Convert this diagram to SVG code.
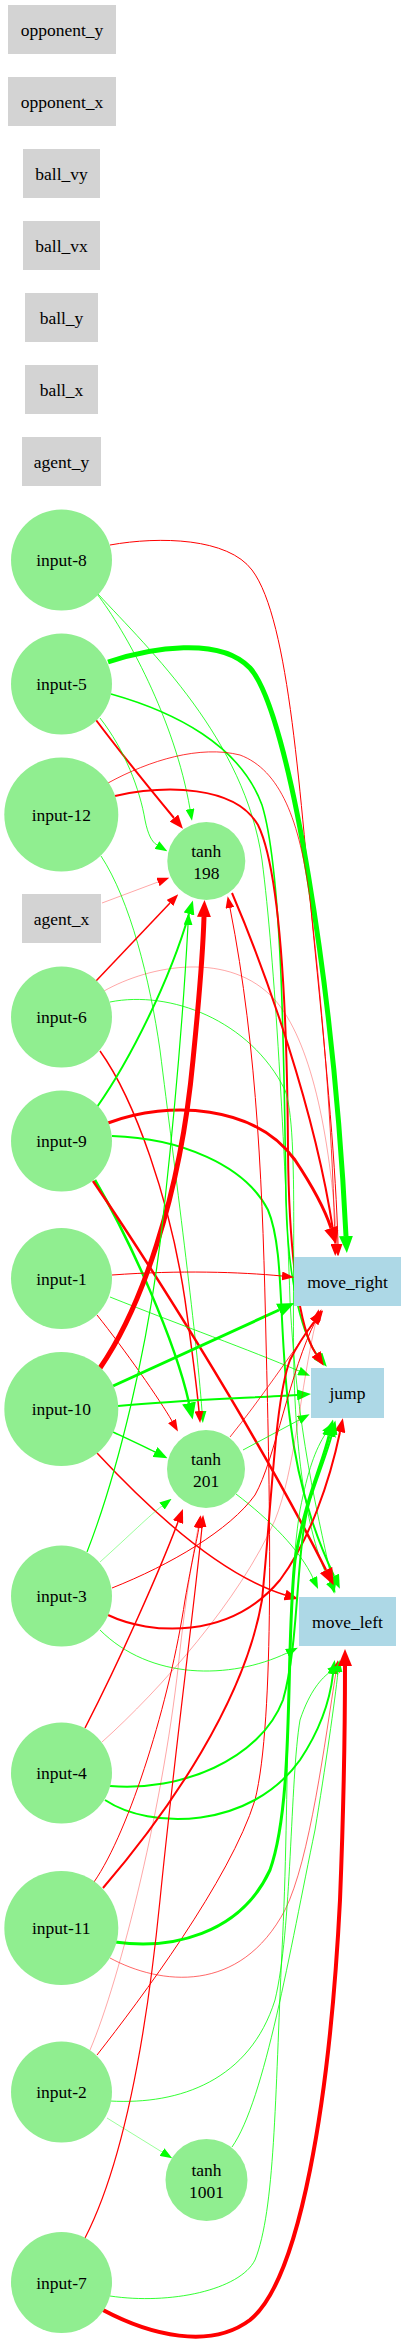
<svg xmlns="http://www.w3.org/2000/svg" width="405" height="2350" viewBox="0 0 405 2350">
<style>
text{font-family:"Liberation Serif","Times New Roman",serif;font-size:17.5px;text-anchor:middle;fill:#000}
.in{fill:#d3d3d3}
.hid{fill:#90ee90}
.out{fill:#add8e6}
path.e{fill:none}
.r{stroke:#ff0000}
.g{stroke:#00ff00}
</style>
<defs>
<marker id="rs" markerUnits="userSpaceOnUse" markerWidth="12" markerHeight="9" refX="0" refY="4.5" orient="auto"><path d="M0,0L12,4.5L0,9z" fill="#ff0000"/></marker>
<marker id="rm" markerUnits="userSpaceOnUse" markerWidth="14" markerHeight="11" refX="0" refY="5.5" orient="auto"><path d="M0,0L14,5.5L0,11z" fill="#ff0000"/></marker>
<marker id="rl" markerUnits="userSpaceOnUse" markerWidth="17" markerHeight="14" refX="0" refY="7" orient="auto"><path d="M0,0L17,7L0,14z" fill="#ff0000"/></marker>
<marker id="gs" markerUnits="userSpaceOnUse" markerWidth="12" markerHeight="9" refX="0" refY="4.5" orient="auto"><path d="M0,0L12,4.5L0,9z" fill="#00ff00"/></marker>
<marker id="gm" markerUnits="userSpaceOnUse" markerWidth="14" markerHeight="11" refX="0" refY="5.5" orient="auto"><path d="M0,0L14,5.5L0,11z" fill="#00ff00"/></marker>
<marker id="gl" markerUnits="userSpaceOnUse" markerWidth="17" markerHeight="14" refX="0" refY="7" orient="auto"><path d="M0,0L17,7L0,14z" fill="#00ff00"/></marker>
</defs>
<rect width="405" height="2350" fill="#fff"/>
<g id="edges">
<path class="e r" stroke-width="1" marker-end="url(#rs)" d="M110,545 C160,536 228,538 252,570 C290,620 300,800 315,950 C327,1070 336,1170 338,1244"/>
<path class="e g" stroke-width="0.8" marker-end="url(#gs)" d="M97,594 C125,630 175,720 190,809"/>
<path class="e g" stroke-width="0.8" marker-end="url(#gs)" d="M98,594 C150,650 245,740 262,860 C275,960 285,1150 290,1300 C297,1440 322,1530 332,1582"/>
<path class="e g" stroke-width="5" marker-end="url(#gl)" d="M108,662 C150,648 220,636 250,668 C290,712 334,990 346,1236"/>
<path class="e g" stroke-width="1.6" marker-end="url(#gm)" d="M111,694 C175,712 240,745 262,805 C282,870 284,1050 286,1200 C288,1290 305,1340 318,1356"/>
<path class="e r" stroke-width="2" marker-end="url(#rm)" d="M96,720 C120,752 155,795 174,818"/>
<path class="e g" stroke-width="0.8" marker-end="url(#gs)" d="M100,718 C125,750 140,790 145,820 C148,835 152,842 157,845"/>
<path class="e g" stroke-width="0.8" marker-end="url(#gs)" d="M101,856 C130,900 150,980 160,1050 C175,1170 196,1330 202,1411"/>
<path class="e r" stroke-width="0.8" marker-end="url(#rs)" d="M108,783 C150,760 200,745 240,755 C280,770 300,820 310,900 C325,1030 333,1150 335,1244"/>
<path class="e r" stroke-width="2" marker-end="url(#rm)" d="M115,796 C165,785 235,785 258,825 C280,870 287,1000 288,1150 C289,1260 300,1330 316,1354"/>
<path class="e r" stroke-width="0.35" marker-end="url(#rs)" d="M102,903 L158,882"/>
<path class="e r" stroke-width="1.5" marker-end="url(#rs)" d="M96,981 L170,903"/>
<path class="e r" stroke-width="0.35" marker-end="url(#rs)" d="M104,991 C150,965 230,950 275,1000 C310,1040 330,1130 337,1244"/>
<path class="e g" stroke-width="0.8" marker-end="url(#gs)" d="M110,1002 C170,990 250,1020 285,1090 C300,1130 290,1300 295,1400 C300,1500 316,1555 330,1582"/>
<path class="e r" stroke-width="1.5" marker-end="url(#rs)" d="M100,1051 C135,1100 170,1200 185,1300 C192,1350 197,1390 199,1411"/>
<path class="e g" stroke-width="2" marker-end="url(#gm)" d="M97,1107 C130,1060 170,980 189,914"/>
<path class="e r" stroke-width="3" marker-end="url(#rl)" d="M108,1123 C170,1100 255,1105 295,1160 C315,1190 325,1210 331,1228"/>
<path class="e g" stroke-width="2" marker-end="url(#gm)" d="M112,1136 C180,1138 245,1165 268,1210 C285,1250 278,1330 290,1420 C300,1500 322,1550 334,1576"/>
<path class="e g" stroke-width="2.5" marker-end="url(#gl)" d="M95,1180 C130,1240 175,1340 189,1403"/>
<path class="e r" stroke-width="2.5" marker-end="url(#rl)" d="M93,1181 C140,1250 250,1420 326,1570"/>
<path class="e r" stroke-width="1" marker-end="url(#rs)" d="M112,1275 C180,1270 240,1272 282,1276"/>
<path class="e g" stroke-width="0.8" marker-end="url(#gs)" d="M110,1297 C180,1325 250,1350 299,1371"/>
<path class="e r" stroke-width="1" marker-end="url(#rs)" d="M97,1315 C125,1350 160,1400 172,1421"/>
<path class="e r" stroke-width="5" marker-end="url(#rl)" d="M100,1368 C140,1310 180,1200 193,1060 C200,990 203,950 204,917"/>
<path class="e g" stroke-width="3" marker-end="url(#gl)" d="M113,1386 L279,1310"/>
<path class="e g" stroke-width="2" marker-end="url(#gm)" d="M118,1406 C180,1400 250,1398 297,1395"/>
<path class="e g" stroke-width="1.5" marker-end="url(#gm)" d="M113,1432 C130,1440 145,1447 155,1452"/>
<path class="e r" stroke-width="1.5" marker-end="url(#rm)" d="M97,1453 C150,1510 220,1575 285,1595"/>
<path class="e r" stroke-width="2" marker-end="url(#rm)" d="M232,893 C265,970 315,1110 333,1230"/>
<path class="e r" stroke-width="1" marker-end="url(#rs)" d="M97,2055 C140,2000 230,1880 255,1800 C275,1720 270,1500 266,1340 C263,1200 258,1050 230,908"/>
<path class="e r" stroke-width="0.8" marker-end="url(#rs)" d="M230,1437 C260,1400 290,1355 316,1320"/>
<path class="e g" stroke-width="0.8" marker-end="url(#gs)" d="M243,1450 L299,1420"/>
<path class="e g" stroke-width="0.8" marker-end="url(#gs)" d="M236,1494 C270,1520 300,1550 313,1578"/>
<path class="e g" stroke-width="1.2" marker-end="url(#gs)" d="M87,1552 C115,1480 150,1350 165,1200 C178,1080 184,1000 188,925"/>
<path class="e g" stroke-width="0.4" marker-end="url(#gs)" d="M100,1562 C130,1535 150,1515 162,1506"/>
<path class="e r" stroke-width="1" marker-end="url(#rs)" d="M112,1588 C170,1565 230,1530 255,1495 C275,1460 290,1370 316,1320"/>
<path class="e r" stroke-width="2" marker-end="url(#rm)" d="M108,1615 C150,1635 230,1640 280,1580 C310,1540 330,1480 340,1432"/>
<path class="e g" stroke-width="0.8" marker-end="url(#gs)" d="M100,1630 C150,1680 230,1680 287,1653"/>
<path class="e r" stroke-width="1.5" marker-end="url(#rm)" d="M85,1728 C120,1660 160,1570 178,1522"/>
<path class="e r" stroke-width="0.35" marker-end="url(#rs)" d="M102,1742 C160,1690 240,1600 275,1520 C295,1470 300,1390 316,1321"/>
<path class="e g" stroke-width="2" marker-end="url(#gm)" d="M110,1786 C180,1792 260,1760 283,1700 C300,1640 295,1550 310,1500 C320,1470 328,1450 332,1434"/>
<path class="e g" stroke-width="2" marker-end="url(#gm)" d="M105,1800 C150,1830 250,1830 300,1760 C320,1730 330,1700 333,1674"/>
<path class="e r" stroke-width="1" marker-end="url(#rs)" d="M94,1882 C130,1830 170,1700 185,1600 C192,1560 197,1540 199,1527"/>
<path class="e r" stroke-width="2" marker-end="url(#rm)" d="M103,1888 C170,1810 245,1700 262,1600 C272,1500 275,1400 290,1360 C300,1340 308,1330 314,1322"/>
<path class="e g" stroke-width="3" marker-end="url(#gl)" d="M115,1942 C170,1950 240,1935 270,1870 C295,1800 285,1650 295,1560 C305,1500 322,1465 329,1436"/>
<path class="e r" stroke-width="0.6" marker-end="url(#rs)" d="M110,1958 C160,1985 240,1995 285,1910 C310,1860 325,1740 336,1672"/>
<path class="e r" stroke-width="0.35" marker-end="url(#rs)" d="M90,2050 C120,1980 165,1800 180,1650 C188,1580 195,1545 198,1528"/>
<path class="e g" stroke-width="0.8" marker-end="url(#gs)" d="M110,2101 C180,2105 250,2080 275,2000 C292,1930 290,1780 300,1720 C310,1690 322,1678 330,1672"/>
<path class="e g" stroke-width="0.4" marker-end="url(#gs)" d="M107,2118 L162,2152"/>
<path class="e g" stroke-width="0.8" marker-end="url(#gs)" d="M232,2147 C265,2100 290,1950 315,1830 C325,1770 335,1700 338,1672"/>
<path class="e r" stroke-width="1.2" marker-end="url(#rs)" d="M85,2238 C120,2170 145,2050 160,1900 C175,1750 195,1600 202,1527"/>
<path class="e r" stroke-width="4" marker-end="url(#rl)" d="M103,2310 C150,2335 210,2350 250,2320 C300,2280 330,2100 340,1900 C344,1800 345,1720 345,1666"/>
<path class="e g" stroke-width="0.8" marker-end="url(#gs)" d="M110,2296 C170,2305 240,2290 255,2260 C275,2210 275,2100 282,1950 C290,1800 285,1600 300,1510 C308,1470 315,1450 326,1433"/>
</g>
<g id="n_opponent_y"><rect class="in" x="8" y="5" width="108" height="49"/><text x="62" y="36">opponent_y</text></g>
<g id="n_opponent_x"><rect class="in" x="8" y="77" width="108" height="49"/><text x="62" y="108">opponent_x</text></g>
<g id="n_ball_vy"><rect class="in" x="23" y="149" width="77" height="49"/><text x="61.5" y="180">ball_vy</text></g>
<g id="n_ball_vx"><rect class="in" x="23" y="221" width="77" height="49"/><text x="61.5" y="252">ball_vx</text></g>
<g id="n_ball_y"><rect class="in" x="25" y="293" width="73" height="49"/><text x="61.5" y="324">ball_y</text></g>
<g id="n_ball_x"><rect class="in" x="25" y="365" width="73" height="49"/><text x="61.5" y="396">ball_x</text></g>
<g id="n_agent_y"><rect class="in" x="22" y="437" width="79" height="49"/><text x="61.5" y="468">agent_y</text></g>
<g id="n_agent_x"><rect class="in" x="22" y="894" width="79" height="49"/><text x="61.5" y="925">agent_x</text></g>
<g id="n_input-8"><circle class="hid" cx="61.5" cy="560" r="50.5"/><text x="61.5" y="566">input-8</text></g>
<g id="n_input-5"><circle class="hid" cx="61.5" cy="684" r="50.5"/><text x="61.5" y="690">input-5</text></g>
<g id="n_input-12"><circle class="hid" cx="61.3" cy="814.5" r="57"/><text x="61.3" y="820.5">input-12</text></g>
<g id="n_tanh198"><circle class="hid" cx="206.3" cy="861" r="39"/><text x="206.3" y="857">tanh</text><text x="206.3" y="879">198</text></g>
<g id="n_input-6"><circle class="hid" cx="61.5" cy="1017" r="50.5"/><text x="61.5" y="1023">input-6</text></g>
<g id="n_input-9"><circle class="hid" cx="61.5" cy="1141" r="50.5"/><text x="61.5" y="1147">input-9</text></g>
<g id="n_input-1"><circle class="hid" cx="61.5" cy="1278.5" r="50.5"/><text x="61.5" y="1284.5">input-1</text></g>
<g id="n_move_right"><rect class="out" x="294" y="1257" width="107" height="49"/><text x="347.5" y="1288">move_right</text></g>
<g id="n_input-10"><circle class="hid" cx="61.3" cy="1409" r="57"/><text x="61.3" y="1415">input-10</text></g>
<g id="n_jump"><rect class="out" x="311" y="1368" width="73" height="50"/><text x="347.5" y="1399">jump</text></g>
<g id="n_tanh201"><circle class="hid" cx="206" cy="1469" r="39"/><text x="206" y="1465">tanh</text><text x="206" y="1487">201</text></g>
<g id="n_input-3"><circle class="hid" cx="61.5" cy="1596" r="50.5"/><text x="61.5" y="1602">input-3</text></g>
<g id="n_move_left"><rect class="out" x="299" y="1597" width="97" height="49"/><text x="347.5" y="1628">move_left</text></g>
<g id="n_input-4"><circle class="hid" cx="61.5" cy="1773" r="50.5"/><text x="61.5" y="1779">input-4</text></g>
<g id="n_input-11"><circle class="hid" cx="61.3" cy="1928" r="57"/><text x="61.3" y="1934">input-11</text></g>
<g id="n_input-2"><circle class="hid" cx="61.5" cy="2092" r="50.5"/><text x="61.5" y="2098">input-2</text></g>
<g id="n_tanh1001"><circle class="hid" cx="206.5" cy="2180" r="41"/><text x="206.5" y="2176">tanh</text><text x="206.5" y="2198">1001</text></g>
<g id="n_input-7"><circle class="hid" cx="61.5" cy="2282.5" r="50.5"/><text x="61.5" y="2288.5">input-7</text></g>
</svg>
